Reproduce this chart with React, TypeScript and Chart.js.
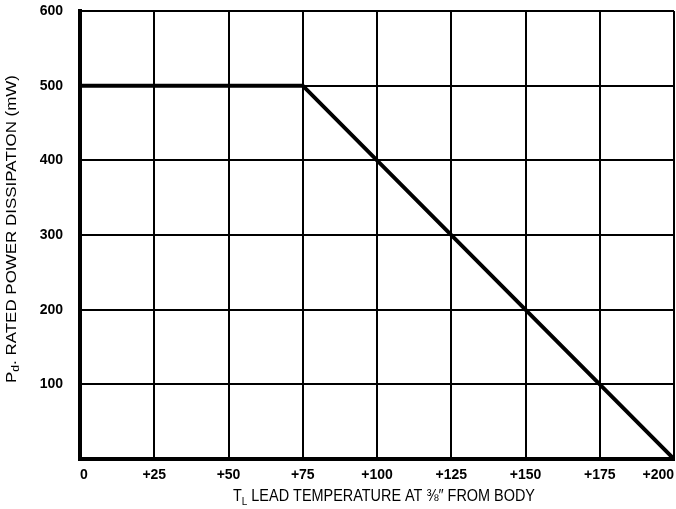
import React, { useEffect, useRef } from "react";
import { Chart, registerables } from "chart.js";

Chart.register(...registerables);

const temperatures: number[] = [0, 75, 200];
const powerMw: number[] = [500, 500, 0];
const xTickValues: number[] = [0, 25, 50, 75, 100, 125, 150, 175, 200];
const xTickLabels: string[] = ["0", "+25", "+50", "+75", "+100", "+125", "+150", "+175", "+200"];
const yTickLabels: string[] = ["", "100", "200", "300", "400", "500", "600"];

const yTitleParts = [
  { text: "P", sub: false },
  { text: "d", sub: true },
  { text: ". RATED POWER DISSIPATION (mW)", sub: false },
];
const xTitleParts = [
  { text: "T", sub: false },
  { text: "L", sub: true },
  { text: " LEAD TEMPERATURE AT \u215C\u2033 FROM BODY", sub: false },
];

const FONT = "'Liberation Sans', Arial, Helvetica, sans-serif";

function drawParts(
  ctx: CanvasRenderingContext2D,
  parts: { text: string; sub: boolean }[],
  size: number,
  targetWidth: number
) {
  const widths = parts.map((p) => {
    ctx.font = `${p.sub ? Math.round(size * 0.7) : size}px ${FONT}`;
    return ctx.measureText(p.text).width;
  });
  const total = widths.reduce((a, b) => a + b, 0);
  const sx = targetWidth / total;
  ctx.scale(sx, 1);
  let x = -total / 2;
  ctx.textBaseline = "middle";
  ctx.textAlign = "left";
  ctx.fillStyle = "#000";
  parts.forEach((p, i) => {
    ctx.font = `${p.sub ? Math.round(size * 0.7) : size}px ${FONT}`;
    ctx.fillText(p.text, x, p.sub ? size * 0.3 : 0);
    x += widths[i];
  });
}

const titlePlugin = {
  id: "axisTitles",
  afterDraw(chart: any) {
    const ctx: CanvasRenderingContext2D = chart.ctx;
    ctx.save();
    ctx.translate(12, 229);
    ctx.rotate(-Math.PI / 2);
    drawParts(ctx, yTitleParts, 14, 308);
    ctx.restore();

    ctx.save();
    ctx.translate(384, 497);
    drawParts(ctx, xTitleParts, 16, 302);
    ctx.restore();
  },
};

export default function App() {
  const ref = useRef<HTMLCanvasElement | null>(null);
  useEffect(() => {
    if (!ref.current) return;
    const chart = new Chart(ref.current, {
      type: "line",
      data: {
        datasets: [
          {
            data: temperatures.map((t, i) => ({ x: t, y: powerMw[i] })),
            borderColor: "#000",
            borderWidth: 4,
            pointRadius: 0,
            fill: false,
            tension: 0,
          },
        ],
      },
      options: {
        animation: false,
        responsive: false,
        maintainAspectRatio: false,
        layout: { padding: { left: 30, right: 2, top: 11, bottom: 24 } },
        plugins: { legend: { display: false }, tooltip: { enabled: false } },
        scales: {
          x: {
            type: "linear",
            min: 0,
            max: 200,
            afterBuildTicks: (scale: any) => {
              scale.ticks = xTickValues.map((v) => ({ value: v }));
            },
            afterFit: (scale: any) => {
              scale.height = 26;
              scale.paddingLeft = 0;
              scale.paddingRight = 0;
            },
            grid: { color: "#000", lineWidth: 2, drawTicks: false },
            border: { color: "#000", width: 4 },
            ticks: {
              color: "#000",
              font: { family: FONT, size: 14, weight: "bold" },
              padding: 8,
              align: "inner",
              maxRotation: 0,
              autoSkip: false,
              callback: (v: any) => xTickLabels[xTickValues.indexOf(Number(v))] ?? "",
            },
          },
          y: {
            min: 0,
            max: 600,
            afterFit: (scale: any) => {
              scale.width = 50;
              scale.paddingTop = 0;
              scale.paddingBottom = 0;
            },
            grid: { color: "#000", lineWidth: 2, drawTicks: false },
            border: { color: "#000", width: 4 },
            ticks: {
              stepSize: 100,
              color: "#000",
              font: { family: FONT, size: 14, weight: "bold" },
              padding: 17,
              callback: (v: any) => yTickLabels[Math.round(Number(v) / 100)] ?? "",
            },
          },
        },
      },
      plugins: [titlePlugin],
    });
    return () => chart.destroy();
  }, []);
  return (
    <div style={{ position: "fixed", left: 0, top: 0, width: 676, height: 509, overflow: "hidden", background: "#fff" }}>
      <canvas ref={ref} width={676} height={509} style={{ display: "block", width: 676, height: 509 }} />
    </div>
  );
}
